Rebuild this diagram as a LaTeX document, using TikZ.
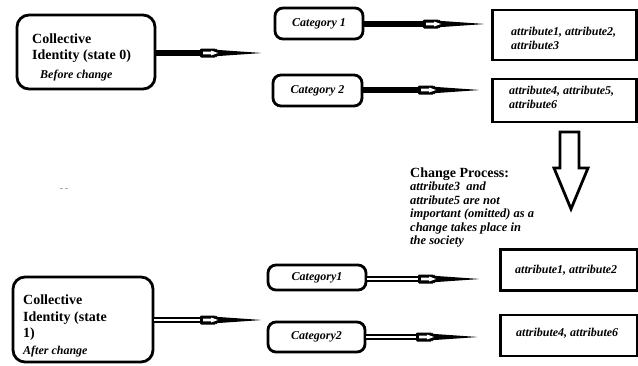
\documentclass[tikz,border=0pt]{standalone}
\usepackage{fontspec}
\setmainfont{Liberation Serif}
\usetikzlibrary{calc}

\tikzset{
  idbox/.style={draw, line width=2.8pt, rounded corners=12pt, inner sep=0pt},
  catbox/.style={draw, line width=2.8pt, rounded corners=8pt, inner sep=0pt,
    font=\fontsize{12}{14}\selectfont\bfseries\itshape},
  attrbox/.style={draw, line width=2.8pt, inner sep=0pt},
  idtext/.style={anchor=north west, inner sep=0pt, align=left,
    font=\fontsize{14}{16.5}\selectfont\bfseries},
  attrtext/.style={anchor=north west, inner sep=0pt, align=left,
    font=\fontsize{12}{14}\selectfont\bfseries\itshape},
  shaft/.style={line width=6pt},
  dshaft/.style={draw=black, line width=2pt, double=white, double distance=2.6pt},
  process/.style={draw, line width=2.8pt, line join=miter},
}

% head of a connector: small white arrow inside a black tapering spike
\newcommand\tiphead[1]{%
  \fill[black, rounded corners=1.2pt]
    ($(#1)+(-62,-4.5)$) -- ($(#1)+(-46,-4.5)$) -- ($(#1)+(-46,-3.2)$) --
    (#1) -- ($(#1)+(-46,3.2)$) -- ($(#1)+(-46,4.5)$) -- ($(#1)+(-62,4.5)$) -- cycle;
  \fill[white]
    ($(#1)+(-59,-1.4)$) -- ($(#1)+(-51,-1.4)$) -- ($(#1)+(-51,-2.5)$) --
    ($(#1)+(-44,0)$) -- ($(#1)+(-51,2.5)$) -- ($(#1)+(-51,1.4)$) --
    ($(#1)+(-59,1.4)$) -- cycle;
}

\begin{document}
\begin{tikzpicture}[x=1pt, y=-1pt]
\useasboundingbox (0,0) rectangle (638,365);

% ---- state 0 ----
\node[idbox, minimum width=138pt, minimum height=74pt] (A) at (86,52) {};
\node[idtext] (Atxt) at (32,33.5)
  {Collective\\Identity (state 0)\\[2pt]\hspace*{8pt}{\fontsize{12}{14}\selectfont\itshape Before change}};

\node[catbox, minimum width=88pt, minimum height=31pt] (c1) at (319,23.5) {Category 1};
\node[catbox, minimum width=89pt, minimum height=31pt] (c2) at (317.5,90.5) {Category 2};

\node[attrbox, minimum width=144pt, minimum height=50pt] (a1) at (564.5,35) {};
\node[attrtext] (a1txt) at (511,27) {attribute1, attribute2,\\attribute3};
\node[attrbox, minimum width=144pt, minimum height=43pt] (a2) at (564.5,100.5) {};
\node[attrtext] (a2txt) at (509,86) {attribute4, attribute5,\\attribute6};

\coordinate (tA) at (262,53);
\coordinate (t1) at (485,24);
\coordinate (t2) at (480,90);
\draw[shaft] (A.east |- tA) -- ($(tA)+(-58,0)$);
\tiphead{tA}
\draw[shaft] (c1.east |- t1) -- ($(t1)+(-58,0)$);
\tiphead{t1}
\draw[shaft] (c2.east |- t2) -- ($(t2)+(-58,0)$);
\tiphead{t2}

% ---- change process ----
\draw[process] (560,132) -- (579,132) -- (579,168) -- (588,168) -- (571,209)
  -- (554,168) -- (560,168) -- cycle;
\node[anchor=north west, inner sep=0pt, align=left,
  font=\fontsize{12.5}{13.4}\selectfont\bfseries\itshape] (cp) at (410,167.5)
  {{\fontsize{14}{14}\selectfont\upshape Change Process:}\\
   attribute3\ \ and\\attribute5 are not\\important (omitted) as a\\
   change takes place in\\the society};

\node[text=black!50, font=\fontsize{10}{10}\selectfont, inner sep=0pt] (dash) at (64,190) {-\,-};

% ---- state 1 ----
\node[idbox, minimum width=140pt, minimum height=85pt] (B) at (83,319.5) {};
\node[idtext] (Btxt) at (23,295)
  {Collective\\Identity (state\\1)\\{\fontsize{12}{14}\selectfont\itshape After change}};

\node[catbox, minimum width=98pt, minimum height=25pt] (d1) at (317,277.5) {Category1};
\node[catbox, minimum width=97pt, minimum height=30pt] (d2) at (316.5,337) {Category2};

\node[attrbox, minimum width=137pt, minimum height=41pt] (b1) at (569,270) {};
\node[attrtext] (b1txt) at (515,265) {attribute1, attribute2};
\node[attrbox, minimum width=137pt, minimum height=41pt] (b2) at (569,335.5) {};
\node[attrtext] (b2txt) at (516,328) {attribute4, attribute6};

\coordinate (tB) at (262,320);
\coordinate (s1) at (480,279);
\coordinate (s2) at (478,337);
\draw[dshaft] (B.east |- tB) -- ($(tB)+(-58,0)$);
\tiphead{tB}
\draw[dshaft] (d1.east |- s1) -- ($(s1)+(-58,0)$);
\tiphead{s1}
\draw[dshaft] (d2.east |- s2) -- ($(s2)+(-58,0)$);
\tiphead{s2}
\end{tikzpicture}
\end{document}
